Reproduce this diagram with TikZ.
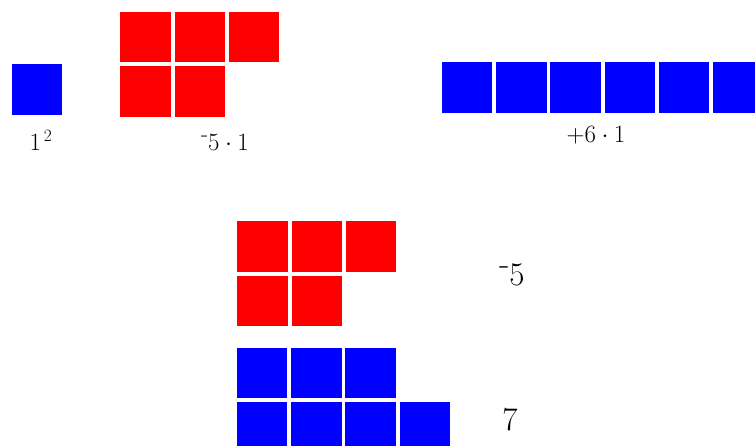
\documentclass[tikz,border=0pt]{standalone}
\usepackage{tikz}
\usetikzlibrary{positioning}
\begin{document}
\begin{tikzpicture}[x=1pt, y=-1pt,
  tile/.style={rectangle, minimum size=50.5pt, inner sep=0pt, outer sep=0pt},
  plustile/.style={tile, fill=blue},
  minustile/.style={tile, fill=red},
  lab/.style={font=\fontsize{23}{26}\selectfont, inner sep=0pt},
  biglab/.style={font=\fontsize{33}{36}\selectfont, inner sep=0pt},
  node distance=3.8pt
]
\useasboundingbox (0,0) rectangle (755,445);
\clip (0,0) rectangle (755,445);

\node[plustile] (one) at (37,89.5) {};

\node[minustile] (ra) at (145.5,37) {};
\node[minustile, right=of ra] (rb) {};
\node[minustile, right=of rb] (rc) {};
\node[minustile, below=of ra] (rd) {};
\node[minustile, right=of rd] (re) {};

\node[plustile] (ba) at (467,87.5) {};
\node[plustile, right=of ba] (bb) {};
\node[plustile, right=of bb] (bc) {};
\node[plustile, right=of bc] (bd) {};
\node[plustile, right=of bd] (be) {};
\node[plustile, right=of be] (bf) {};

\node[lab] (lone) at (41,140) {$1^{\,2}$};
\node[lab] (lneg) at (225,142) {\raisebox{.35em}{-}$5\cdot1$};
\node[lab] (lpos) at (596,135) {$+6\cdot1$};

% sum
\node[minustile] (sa) at (262.5,246.5) {};
\node[minustile, right=of sa] (sb) {};
\node[minustile, right=of sb] (sc) {};
\node[minustile, below=of sa] (sd) {};
\node[minustile, right=of sd] (se) {};

\node[plustile] (ta) at (262,373) {};
\node[plustile, right=of ta] (tb) {};
\node[plustile, right=of tb] (tc) {};
\node[plustile, below=of ta] (td) {};
\node[plustile, right=of td] (te) {};
\node[plustile, right=of te] (tf) {};
\node[plustile, right=of tf] (tg) {};

\node[biglab] (lfive) at (512,275) {\raisebox{.35em}{-}5};
\node[biglab] (lseven) at (510,420) {7};
\end{tikzpicture}
\end{document}
